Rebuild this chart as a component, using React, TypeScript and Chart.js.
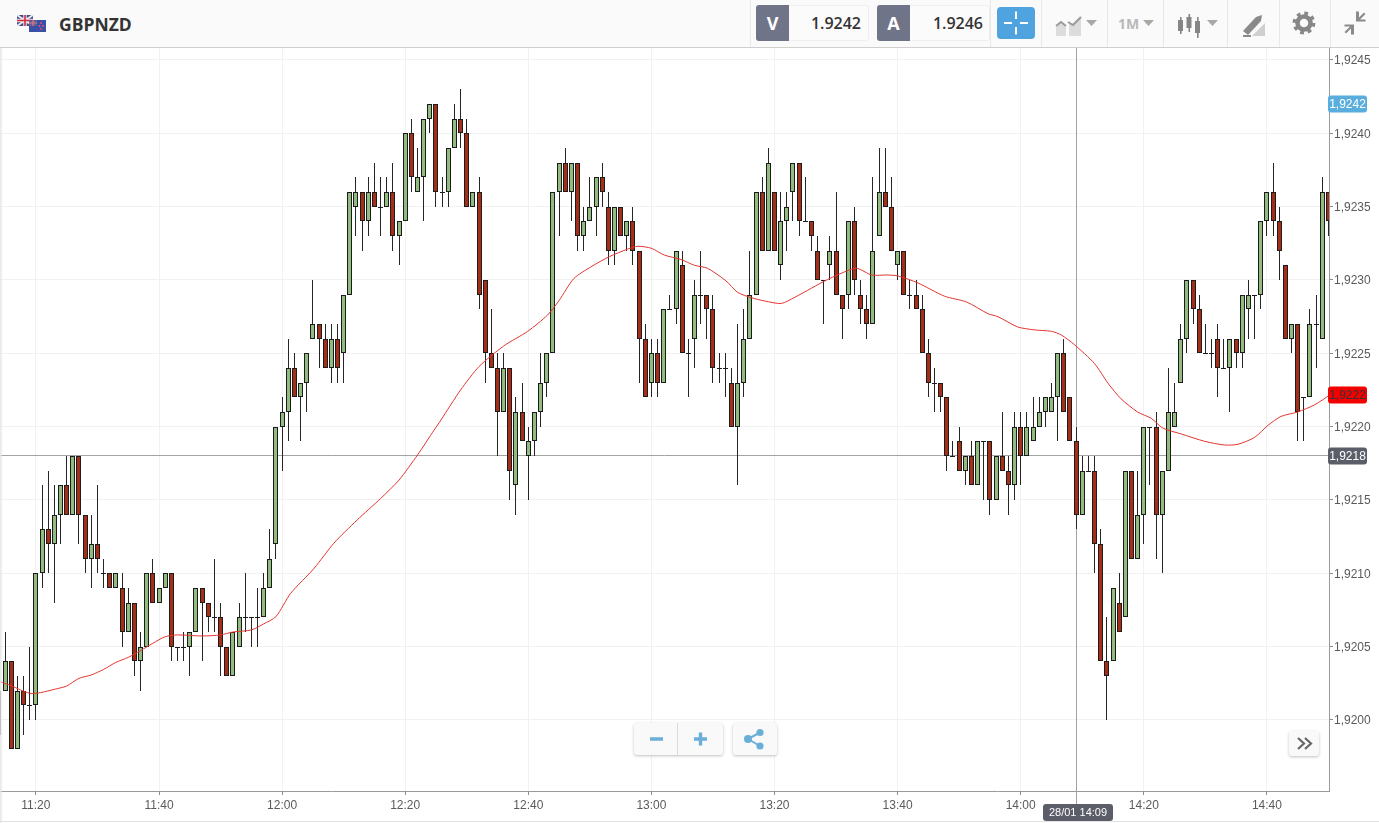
import React, { useEffect, useRef } from "react";
import { Chart, registerables } from "chart.js";

Chart.register(...registerables);

const basePrice = 1.92;
const startMinute = 674; // 11:14, minutes after midnight of the first candle

// Candle values, in pips above 1.9200, one per minute
const opens = [2,2,4,-2,2,1,1,10,13,12,14,16,14,18,14,11,12,10,10,9,9,6,8,4,5,10,8,9,10,5,5,5,6,9,8,7,7,5,3,5,7,7,7,7,9,12,20,21,24,22,23,26,27,26,24,26,25,29,35,36,34,36,35,35,36,33,34,40,36,37,41,42,36,36,39,41,40,35,36,30,25,24,21,24,16,21,18,19,21,23,25,36,38,36,38,33,34,35,37,35,32,35,33,34,32,26,23,25,23,28,28,31,25,26,29,29,28,24,24,23,20,23,26,29,36,32,36,31,34,36,38,34,34,32,30,31,32,29,29,34,29,28,27,33,36,35,31,32,29,29,28,25,23,23,22,18,19,17,18,16,19,19,15,18,17,16,20,18,19,20,21,21,22,25,22,19,14,17,17,12,4,4,8,7,17,11,14,20,20,14,17,20,23,26,30,28,25,25,26,24,24,26,25,28,29,29,34,36,34,31,26,27,22,22,27,26,36];
const closes = [-1,4,-2,2,1,1,10,13,12,14,16,14,18,14,11,12,11,10,9,10,6,8,4,5,10,8,9,10,5,5,5,6,9,8,7,7,5,3,6,7,7,7,7,9,11,20,21,24,22,23,25,27,26,24,26,24,29,36,36,34,36,35,35,36,33,34,40,37,37,41,42,36,36,39,41,40,35,36,29,25,24,21,24,17,21,19,19,21,23,25,36,38,36,38,33,34,35,37,36,32,35,33,34,32,26,22,25,23,28,28,32,25,25,29,29,28,24,24,24,20,23,26,29,36,32,38,32,34,35,38,34,34,33,30,30,32,29,28,34,30,28,27,32,36,35,32,32,29,29,28,25,23,23,22,18,18,17,18,16,19,19,15,18,17,16,20,18,20,20,21,22,22,25,21,19,14,17,17,12,4,3,9,6,17,11,14,20,20,14,17,21,21,26,30,28,25,25,25,24,24,26,25,29,29,29,34,36,34,32,26,27,21,22,27,27,36,34];
const highs = [2,6,4,3,3,5,10,16,17,16,16,18,18,18,14,14,16,11,10,10,10,9,8,6,10,11,9,10,10,5,6,6,9,9,8,11,8,5,6,8,10,7,9,10,13,20,22,26,25,23,25,30,27,27,27,27,29,36,37,36,37,38,37,37,38,34,40,41,39,41,42,42,37,39,42,43,41,36,37,30,28,25,25,24,22,23,20,21,25,25,36,38,39,38,38,35,37,37,38,36,35,35,34,35,32,27,26,26,28,29,32,32,26,30,32,29,29,25,25,24,27,28,32,36,37,39,36,36,36,38,38,37,34,33,30,33,36,29,34,35,30,29,37,39,39,37,32,32,30,30,29,26,24,23,22,19,20,18,19,19,19,19,18,21,18,21,21,21,22,22,22,23,25,26,22,20,18,18,18,13,7,9,10,17,17,17,20,20,21,17,24,23,27,30,30,29,27,26,27,26,26,26,29,30,29,34,36,38,35,31,27,27,22,28,29,37,36];
const lows = [-1,2,-2,-2,-1,0,0,9,10,8,12,14,14,12,10,9,10,9,9,9,5,6,3,2,5,8,8,9,4,4,4,3,6,4,6,6,3,3,3,5,6,5,5,7,9,11,17,19,22,19,21,26,24,24,23,23,23,29,33,32,33,35,33,35,32,31,34,36,36,34,40,35,35,35,39,39,35,35,28,23,24,18,21,15,14,19,15,18,20,22,25,33,36,34,32,32,34,33,35,31,31,33,32,31,23,22,22,22,23,28,27,25,22,24,27,26,23,23,22,20,16,22,26,29,32,32,32,30,32,34,33,34,32,30,27,30,29,26,28,29,27,26,27,33,35,32,30,29,28,28,25,22,21,21,17,18,17,16,16,16,15,14,15,17,14,15,16,18,19,20,20,21,19,21,19,13,14,17,10,4,0,4,6,7,11,11,12,16,11,10,17,20,23,25,27,25,25,24,22,24,21,24,24,26,26,28,33,33,30,26,25,19,19,22,24,26,33];

// Moving average
const smaMinutes = [-5.8,-4,-2.5,-1,0.7,3,5,7,9,11,13,15,17,19,21,23,27,30,32,35,37,39,41.4,45.2,48.4,52.2,56,59,62,64.7,65.8,69,72,76,79.9,83.1,85,87.4,90.2,93.2,96.1,97.8,100,102.1,104.8,107,109.1,112.1,114,116.2,118.4,121.1,123.2,125.4,128,130.8,133.3,135.8,138.4,140.1,143.3,147.6,151.2,154.7,156.3,159.5,162.2,165,166.6,168.7,172,174.2,176.3,179,181.2,183.1,186.1,189.9,193.1,195.3,198,200.2,202.3,205,207.8,210.2];
const smaPips = [2.61,2.34,2.05,1.82,1.86,2.09,2.32,2.84,3.07,3.45,3.93,4.27,4.73,5.23,5.68,5.8,5.73,5.8,6,6.14,6.55,7.05,8.64,10.34,12.05,13.64,15.1,16.36,18.07,19.77,20.45,22.5,24.1,25.5,26.5,27.6,28.6,30.1,30.9,31.6,32.1,32.3,32.16,31.7,31.4,31,30.8,29.95,29.16,28.8,28.57,28.4,28.8,29.3,29.9,30.45,30.8,30.34,30.34,30.27,29.8,28.9,28.5,27.7,27.5,26.8,26.6,26.5,26.25,25.6,24.3,22.95,21.9,21,20.57,19.9,19.5,19,18.75,18.8,19.27,20.1,20.7,21,21.5,22.16];

const price = (p: number) => basePrice + p / 10000;
const fmtComma = (v: number) => v.toFixed(4).replace(".", ",");
const fmtTime = (m: number) => {
  const h = Math.floor(m / 60);
  const mm = Math.round(m - h * 60);
  return `${h}:${String(mm).padStart(2, "0")}`;
};

const UP = "#92bb7f";
const DOWN = "#a52e18";
const INK = "#1c1c1c";

const crossPrice = 1.9218;
const crossMinute = 849; // 14:09
const bidPrice = 1.9242;
const smaLast = price(smaPips[smaPips.length - 1]);

const crispBars = {
  id: "crispBars",
  afterDatasetsUpdate(chart: any) {
    chart.data.datasets.forEach((_: any, i: number) => {
      const meta = chart.getDatasetMeta(i);
      if (meta.type !== "bar") return;
      meta.data.forEach((el: any) => {
        el.x = Math.floor(el.x) + 0.5;
        el.y = Math.round(el.y);
        el.base = Math.round(el.base);
        if (el.y === el.base) el.base = el.y + 1;
      });
    });
  },
};

const crosshair = {
  id: "crosshair",
  beforeDatasetsDraw(chart: any) {
    const { ctx, chartArea, scales } = chart;
    const x = Math.floor(scales.x.getPixelForValue(crossMinute)) + 0.5;
    const y = Math.floor(scales.y.getPixelForValue(crossPrice)) + 0.5;
    ctx.save();
    ctx.strokeStyle = "#a3a3a3";
    ctx.lineWidth = 1;
    ctx.beginPath();
    ctx.moveTo(chartArea.left, y);
    ctx.lineTo(chartArea.right, y);
    ctx.moveTo(x, chartArea.top);
    ctx.lineTo(x, chartArea.bottom + 14);
    ctx.stroke();
    ctx.restore();
  },
  afterDraw(chart: any) {
    const { ctx, scales, chartArea } = chart;
    const tag = (x: number, y: number, w: number, h: number, bg: string, fg: string, text: string, size: number) => {
      ctx.save();
      ctx.fillStyle = bg;
      ctx.beginPath();
      ctx.roundRect(x, y, w, h, 3);
      ctx.fill();
      ctx.fillStyle = fg;
      ctx.font = `${size}px "Liberation Sans"`;
      ctx.textAlign = "center";
      ctx.textBaseline = "middle";
      ctx.fillText(text, x + w / 2, y + h / 2 + 0.5);
      ctx.restore();
    };
    const right = chartArea.right - 1;
    const yTag = (v: number, bg: string, fg: string) =>
      tag(right, Math.round(scales.y.getPixelForValue(v)) - 8.5, 39, 17, bg, fg, fmtComma(v), 12);
    yTag(bidPrice, "#5aaedd", "#ffffff");
    yTag(smaLast, "#f40000", "#333333");
    yTag(crossPrice, "#5b5d68", "#ffffff");
    const cx = scales.x.getPixelForValue(crossMinute);
    tag(Math.round(cx) - 33, 804, 70, 17, "#5b5d68", "#ffffff", `28/01 ${fmtTime(crossMinute)}`, 11);
  },
};

const box = (x: number, y: number, w: number, h: number, extra: React.CSSProperties = {}): React.CSSProperties => ({
  position: "absolute",
  left: x,
  top: y,
  width: w,
  height: h,
  boxSizing: "border-box",
  ...extra,
});

const Caret = ({ x, y, c = "#a8a8a8" }: { x: number; y: number; c?: string }) => (
  <svg style={box(x, y, 11, 6)} viewBox="0 0 11 6"><path d="M0 0H11L5.5 6Z" fill={c} /></svg>
);

const Sep = ({ x }: { x: number }) => <div style={box(x, 0, 1, 47, { background: "#e8e8e8" })} />;

const Flags = () => (
  <svg style={box(17, 15, 29, 17)} viewBox="0 0 29 17">
    <rect x="0" y="0" width="16" height="11" fill="#3d4a8a" />
    <path d="M0 0L16 11M16 0L0 11" stroke="#e8e6ee" strokeWidth="2" />
    <path d="M8 0V11M0 5.5H16" stroke="#e8e6ee" strokeWidth="3.5" />
    <path d="M8 0V11M0 5.5H16" stroke="#d8283a" strokeWidth="1.6" />
    <rect x="12" y="5" width="17" height="12" fill="#3a4fa6" />
    <rect x="12" y="5" width="8" height="6" fill="#6a5a90" />
    <path d="M12 8H20M16 5V11" stroke="#d87a8a" strokeWidth="1.2" />
    <circle cx="24" cy="8" r="0.9" fill="#e8506a" />
    <circle cx="26" cy="11" r="0.9" fill="#e8506a" />
    <circle cx="22.5" cy="11" r="0.9" fill="#e8506a" />
    <circle cx="24" cy="14" r="0.9" fill="#e8506a" />
  </svg>
);

const Header = () => (
  <div style={box(0, 0, 1379, 48, { background: "#fafafa", borderBottom: "1px solid #cfcfcf" })}>
    <Flags />
    <div style={box(59, 11, 120, 26, { font: '700 17.5px/26px "Open Sans"', color: "#333" })}>GBPNZD</div>

    <Sep x={750} />
    <div style={box(756, 5, 113, 36, { background: "#fbfbfb", border: "1px solid #efefef", borderRadius: 3 })} />
    <div style={box(756, 5, 33, 36, { background: "#6f7489", borderRadius: "3px 0 0 3px", color: "#fff", font: '700 18px/36px "Open Sans"', textAlign: "center" })}>V</div>
    <div style={box(794, 5, 67, 36, { font: '600 16px/36px "Open Sans"', color: "#333", textAlign: "right" })}>1.9242</div>
    <div style={box(877, 5, 113, 36, { background: "#fbfbfb", border: "1px solid #efefef", borderRadius: 3 })} />
    <div style={box(877, 5, 33, 36, { background: "#6f7489", borderRadius: "3px 0 0 3px", color: "#fff", font: '700 18px/36px "Open Sans"', textAlign: "center" })}>A</div>
    <div style={box(916, 5, 67, 36, { font: '600 16px/36px "Open Sans"', color: "#333", textAlign: "right" })}>1.9246</div>
    <Sep x={990} />

    <div style={box(997, 7, 38, 32, { background: "#4fa3df", borderRadius: 4 })} />
    <svg style={box(997, 7, 38, 32)} viewBox="0 0 38 32">
      <path d="M7 16H15M23 16H31M19 4.5V12M19 20V27.5" stroke="#fff" strokeWidth="2" />
    </svg>
    <Sep x={1041} />

    <svg style={box(1055, 14, 28, 24)} viewBox="0 0 28 24">
      <path d="M1 22V13L6 9L11 13V22Z" fill="#dcdcdc" />
      <path d="M14 22V9L18 12L26 4V22Z" fill="#dcdcdc" />
      <path d="M1 12L6 8L11 12M13 8L18 11L26 3" stroke="#999" strokeWidth="2" fill="none" />
    </svg>
    <Caret x={1086} y={20} />
    <Sep x={1107} />

    <div style={box(1118, 12, 26, 24, { font: '700 14px/24px "Open Sans"', color: "#b9b9b9" })}>1M</div>
    <Caret x={1143} y={20} />
    <Sep x={1163} />

    <svg style={box(1177, 14, 24, 24)} viewBox="0 0 24 24" fill="#858585">
      <rect x="1" y="6" width="5" height="11" />
      <rect x="3" y="3" width="1.6" height="17" />
      <rect x="9.5" y="3" width="5" height="11" />
      <rect x="11.5" y="0" width="1.6" height="18" />
      <rect x="18" y="7" width="5" height="12" />
      <rect x="20" y="3" width="1.6" height="21" />
    </svg>
    <Caret x={1207} y={20} />
    <Sep x={1227} />

    <svg style={box(1243, 14, 23, 23)} viewBox="0 0 23 23">
      <path d="M22 22V9L9 22Z" fill="#cfcfcf" />
      <path d="M0 17L13 3L19 1L18 7L5 21Z" fill="#8a8a8a" />
      <path d="M0 22H8" stroke="#8a8a8a" strokeWidth="2" />
    </svg>
    <Sep x={1279} />

    <svg style={box(1292, 11, 24, 24)} viewBox="0 0 24 24" fill="none" stroke="#878787">
      <circle cx="12" cy="12" r="6.5" strokeWidth="4.5" />
      <circle cx="12" cy="12" r="9.6" strokeWidth="3.6" strokeDasharray="3.7 3.84" />
    </svg>
    <Sep x={1330} />

    <svg style={box(1343, 11, 24, 24)} viewBox="0 0 24 24" fill="#8a8a8a">
      <path d="M14 1H17V7L22 2L23.5 3.5L18 9H23.5V11H14Z" transform="translate(-1 -0.5)" />
      <path d="M10 23H7V17L2 22L0.5 20.5L6 15H0.5V13H10Z" transform="translate(1 0.5)" />
    </svg>
  </div>
);

const Controls = () => {
  const card = { background: "#f9f9f9", borderRadius: 3, boxShadow: "0 1px 3px rgba(0,0,0,0.25)" };
  return (
    <>
      <div style={box(634, 723, 89, 32, card)} />
      <div style={box(677, 723, 1, 32, { background: "#dcdcdc" })} />
      <svg style={box(634, 723, 89, 32)} viewBox="0 0 89 32">
        <path d="M16 16H29M60 16H73M66.5 9.5V22.5" stroke="#6aafd8" strokeWidth="3.4" />
      </svg>
      <div style={box(733, 723, 44, 32, card)} />
      <svg style={box(733, 723, 44, 32)} viewBox="0 0 44 32" fill="#6aafd8">
        <circle cx="15" cy="16" r="4" />
        <circle cx="27" cy="9.5" r="3.6" />
        <circle cx="27" cy="23" r="3.6" />
        <path d="M15 16L27 9.5M15 16L27 23" stroke="#6aafd8" strokeWidth="2" />
      </svg>
      <div style={box(1289, 731, 30, 25, card)} />
      <svg style={box(1289, 731, 30, 25)} viewBox="0 0 30 25" fill="none" stroke="#666" strokeWidth="2.2">
        <path d="M9 7L15 12.5L9 18M16 7L22 12.5L16 18" />
      </svg>
    </>
  );
};

export default function App() {
  const ref = useRef<HTMLCanvasElement | null>(null);

  useEffect(() => {
    if (!ref.current) return;
    const minutes = opens.map((_, i) => startMinute + i);
    const tickLabel = (v: any) => fmtTime(Number(v));
    const chart = new Chart(ref.current, {
      type: "bar",
      data: {
        datasets: [
          {
            type: "line",
            label: "SMA",
            order: 0,
            data: smaMinutes.map((m, i) => ({ x: 680 + m, y: price(smaPips[i]) })),
            borderColor: "#e2352f",
            borderWidth: 1,
            pointRadius: 0,
            tension: 0.25,
          },
          {
            type: "bar",
            label: "Body",
            order: 1,
            grouped: false,
            data: minutes.map((m, i) => ({ x: m, y: [price(opens[i]), price(closes[i])] })),
            backgroundColor: opens.map((o, i) => (closes[i] > o ? UP : closes[i] < o ? DOWN : INK)),
            borderColor: INK,
            borderWidth: 1,
            borderSkipped: false,
            barThickness: 5,
            inflateAmount: 0,
          },
          {
            type: "bar",
            label: "Wick",
            order: 2,
            grouped: false,
            data: minutes.map((m, i) => ({ x: m, y: [price(lows[i]), price(highs[i])] })),
            backgroundColor: "#262626",
            borderWidth: 0,
            barThickness: 1,
            inflateAmount: 0,
          },
        ],
      } as any,
      options: {
        animation: false,
        responsive: false,
        devicePixelRatio: 1,
        layout: { padding: { top: 48, left: 0, right: 0, bottom: 0 } },
        plugins: { legend: { display: false }, tooltip: { enabled: false } },
        scales: {
          x: {
            type: "linear",
            offset: false,
            min: 674.167,
            max: 890.09,
            afterFit: (s: any) => { s.height = 32; },
            grid: { color: "#f1f1f1", tickColor: "#8c8c8c", tickLength: 4, offset: false },
            border: { color: "#9a9a9a" },
            ticks: {
              stepSize: 20,
              includeBounds: false,
              maxRotation: 0,
              autoSkip: false,
              padding: 3,
              color: "#5a5a5a",
              font: { family: '"Liberation Sans"', size: 12 },
              callback: tickLabel,
            },
          },
          y: {
            position: "right",
            min: 1.9195159,
            max: 1.9245818,
            afterFit: (s: any) => { s.width = 50; },
            grid: { color: "#f1f1f1", tickColor: "#8c8c8c", tickLength: 4 },
            border: { color: "#9a9a9a" },
            ticks: {
              stepSize: 0.0005,
              includeBounds: false,
              padding: 1,
              labelOffset: 1,
              color: "#5a5a5a",
              font: { family: '"Liberation Sans"', size: 12 },
              callback: (v: any) => fmtComma(Number(v)),
            },
          },
        },
      } as any,
      plugins: [crispBars, crosshair],
    });
    return () => chart.destroy();
  }, []);

  return (
    <div style={{ position: "fixed", left: 0, top: 0, width: 1379, height: 823, overflow: "hidden", background: "#fff" }}>
      <canvas ref={ref} width={1379} height={823} style={{ position: "absolute", left: 0, top: 0 }} />
      <Header />
      <div style={box(0, 48, 3, 775, { background: "linear-gradient(to right, #e4e4e4, rgba(255,255,255,0))" })} />
      <Controls />
      <div style={box(0, 821, 1379, 1, { background: "#e3e3e3" })} />
    </div>
  );
}
